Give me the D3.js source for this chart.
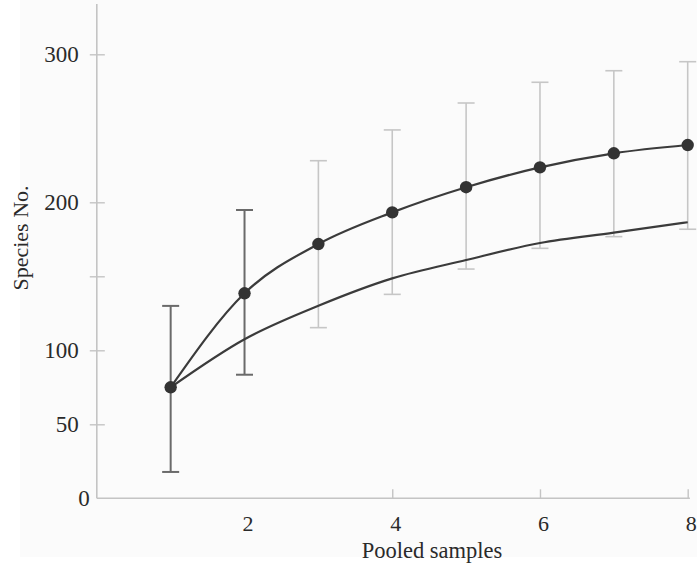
<!DOCTYPE html>
<html>
<head>
<meta charset="utf-8">
<script src="https://cdn.jsdelivr.net/npm/d3@7"></script>
<style>
  html, body { margin: 0; padding: 0; background: #fff; }
  svg { display: block; }
  svg text { font-family: "Liberation Serif", "Times New Roman", serif; fill: #2a2a2a; }
</style>
</head>
<body>
<svg id="chart" width="697" height="563"></svg>
<script>
// pooled samples on the x axis
const samples = [1, 2, 3, 4, 5, 6, 7, 8];
// curve with dots and error bars
const observed = [75, 138.5, 171.8, 193.2, 210.2, 223.6, 233.1, 238.7];
const errHigh = [130, 194.8, 228.1, 248.9, 267.1, 281.1, 288.9, 295];
const errLow = [17.8, 83.5, 115.3, 137.8, 154.9, 168.9, 176.8, 181.8];
// the lower curve, no markers
const expected = [75, 107.5, 130.1, 148.6, 161, 172.5, 179.5, 186.5];

const yTicks = [0, 50, 100, 150, 200, 300];
const yLabelled = [0, 50, 100, 200, 300];
const xTicks = [2, 4, 6, 8];
const xTickMarks = [4, 6, 8];

const svg = d3.select("#chart");
const W = 697, H = 563;
const FONT = '"Liberation Serif", "Times New Roman", serif';

svg.append("rect").attr("x", 20).attr("y", 0).attr("width", W - 20).attr("height", 557).attr("fill", "#fbfbfb");

const x = d3.scaleLinear().domain([0, 8]).range([96.8, 687.7]);
const y = d3.scaleLinear().domain([0, 300]).range([498.3, 54.3]);

const axisColor = "#c4c4c4";

// axes lines
svg.append("line").attr("x1", x(0)).attr("x2", x(8.03)).attr("y1", y(0)).attr("y2", y(0))
  .attr("stroke", axisColor).attr("stroke-width", 1.6);
svg.append("line").attr("x1", x(0)).attr("x2", x(0)).attr("y1", y(0)).attr("y2", y(334))
  .attr("stroke", axisColor).attr("stroke-width", 1.6);

// y axis
const yAxis = svg.append("g").attr("transform", `translate(${x(0)},0)`)
  .call(d3.axisLeft(y).tickValues(yTicks).tickSize(0).tickPadding(18)
    .tickFormat((d) => yLabelled.includes(d) ? d : ""));
yAxis.select(".domain").remove();
yAxis.attr("font-family", null).attr("font-size", null);
yAxis.selectAll(".tick text").style("font-size", "23px").style("font-family", FONT)
  .attr("dx", (d) => d === 0 ? 11 : 0);
yAxis.selectAll(".tick").filter((d) => d !== 0).append("line")
  .attr("x1", -7).attr("x2", 8).attr("stroke", axisColor).attr("stroke-width", 1.4);

// x axis
const xAxis = svg.append("g").attr("transform", `translate(0,${y(0)})`)
  .call(d3.axisBottom(x).tickValues(xTicks).tickSize(0).tickPadding(17));
xAxis.select(".domain").remove();
xAxis.attr("font-family", null).attr("font-size", null);
xAxis.selectAll(".tick text").style("font-size", "22px").style("font-family", FONT)
  .attr("dx", 3);
xAxis.selectAll(".tick").filter((d) => xTickMarks.includes(d)).append("line")
  .attr("y1", 0).attr("y2", -9).attr("stroke", axisColor).attr("stroke-width", 1.4);

// axis titles
svg.append("text").attr("x", 432).attr("y", 558).attr("text-anchor", "middle")
  .style("font-size", "22.5px").style("font-family", FONT).text("Pooled samples");
svg.append("text").attr("transform", "translate(28,238) rotate(-90)").attr("text-anchor", "middle")
  .style("font-size", "22px").style("font-family", FONT).text("Species No.");

// error bars
const cap = 8.5;
const bars = svg.append("g").selectAll("g").data(samples).join("g")
  .attr("stroke", (d, i) => i < 2 ? "#6a6a6a" : "#c6c6c6")
  .attr("stroke-width", (d, i) => i < 2 ? 2 : 1.6);
bars.append("line").attr("x1", (d) => x(d)).attr("x2", (d) => x(d))
  .attr("y1", (d, i) => y(errHigh[i])).attr("y2", (d, i) => y(errLow[i]));
bars.append("line").attr("x1", (d) => x(d) - cap).attr("x2", (d) => x(d) + cap)
  .attr("y1", (d, i) => y(errHigh[i])).attr("y2", (d, i) => y(errHigh[i]));
bars.append("line").attr("x1", (d) => x(d) - cap).attr("x2", (d) => x(d) + cap)
  .attr("y1", (d, i) => y(errLow[i])).attr("y2", (d, i) => y(errLow[i]));

// curves
const line = d3.line().x((d) => x(d[0])).y((d) => y(d[1])).curve(d3.curveMonotoneX);
svg.append("path").datum(samples.map((s, i) => [s, expected[i]])).attr("d", line)
  .attr("fill", "none").attr("stroke", "#3b3b3b").attr("stroke-width", 2.2);
svg.append("path").datum(samples.map((s, i) => [s, observed[i]])).attr("d", line)
  .attr("fill", "none").attr("stroke", "#3b3b3b").attr("stroke-width", 2.2);

svg.append("g").selectAll("circle").data(samples).join("circle")
  .attr("cx", (d) => x(d)).attr("cy", (d, i) => y(observed[i])).attr("r", 6.2)
  .attr("fill", "#333");
</script>
</body>
</html>
